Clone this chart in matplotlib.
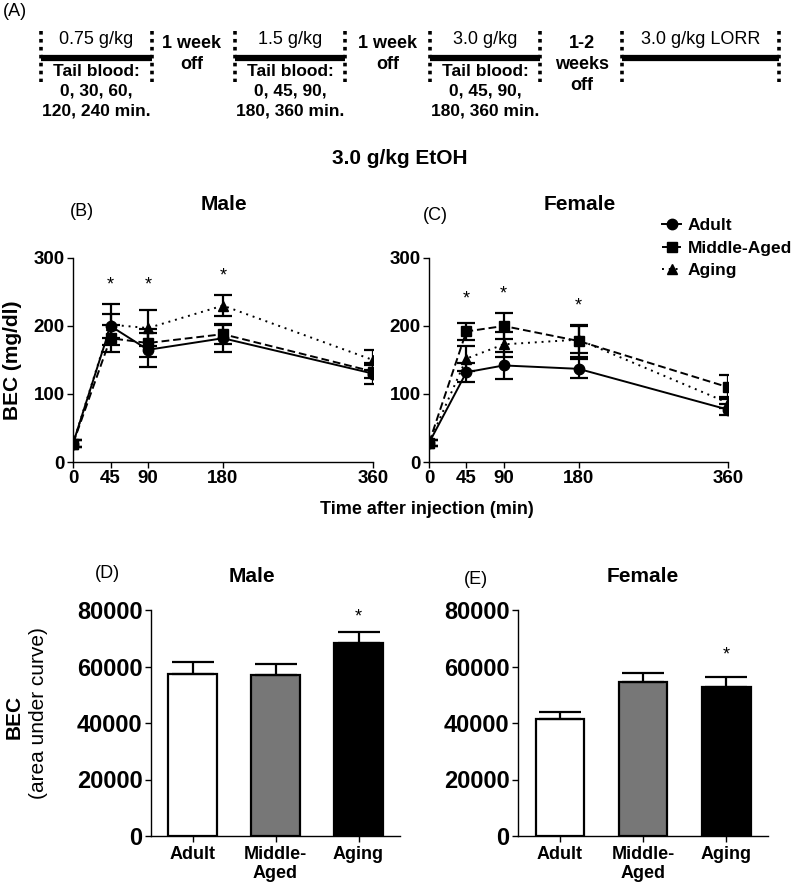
import matplotlib
matplotlib.use("Agg")
import matplotlib.pyplot as plt
from matplotlib.lines import Line2D
import numpy as np

plt.rcParams['font.family'] = ['Liberation Sans', 'DejaVu Sans']
plt.rcParams['axes.linewidth'] = 1.0

# ---- data ----
times = [0, 45, 90, 180, 360]
groups = ["Adult", "Middle-Aged", "Aging"]

male_adult = [27, 200, 165, 182, 130]
male_adult_err = [5, 18, 25, 20, 15]
male_middle = [27, 182, 175, 188, 133]
male_middle_err = [5, 20, 21, 15, 10]
male_aging = [27, 202, 197, 230, 150]
male_aging_err = [5, 30, 27, 16, 14]

female_adult = [28, 132, 142, 137, 77]
female_adult_err = [5, 14, 20, 14, 8]
female_middle = [28, 192, 200, 178, 110]
female_middle_err = [5, 13, 19, 24, 18]
female_aging = [28, 152, 173, 180, 87]
female_aging_err = [5, 18, 18, 20, 8]

male_star_t = [45, 90, 180]
male_star_y = [261, 261, 274]
female_star_t = [45, 90, 180]
female_star_y = [239, 247, 229]

bar_labels = ["Adult", "Middle-\nAged", "Aging"]
male_auc = [57500, 57000, 68300]
male_auc_err = [4000, 3800, 3800]
female_auc = [41400, 54600, 52700]
female_auc_err = [2600, 3100, 3600]
male_auc_star = 77500
female_auc_star = 64000

doses = ["0.75 g/kg", "1.5 g/kg", "3.0 g/kg", "3.0 g/kg LORR"]
blood_times = [["0, 30, 60,", "120, 240 min."],
               ["0, 45, 90,", "180, 360 min."],
               ["0, 45, 90,", "180, 360 min."],
               []]
gaps = [["1 week", "off"], ["1 week", "off"], ["1-2", "weeks", "off"]]

# ---- figure ----
W, H = 800, 892
fig = plt.figure(figsize=(W / 100, H / 100), dpi=100)


def px_axes(l, t, r, b):
    return fig.add_axes([l / W, 1 - b / H, (r - l) / W, (b - t) / H])


def ftext(x, y, s, **kw):
    fig.text(x / W, 1 - y / H, s, ha=kw.pop('ha', 'center'),
             va=kw.pop('va', 'center'), **kw)


# ---- panel A: timeline ----
axa = fig.add_axes([0, 1 - 125 / H, 1, 125 / H])
axa.set_xlim(0, W)
axa.set_ylim(125, 0)
axa.axis('off')
seg_x = [(41, 152), (235, 345), (430, 540), (622, 779)]
gap_x = [192, 388, 582]
for (x0, x1), dose, bt in zip(seg_x, doses, blood_times):
    axa.plot([x0, x1], [58, 58], color='black', lw=4.5, solid_capstyle='butt')
    for xx in (x0, x1):
        axa.plot([xx, xx], [31, 82], color='black', lw=2.6, linestyle=(0, (1, 1.2)))
    xc = (x0 + x1) / 2
    axa.text(xc, 39, dose, ha='center', va='center', fontsize=13)
    if bt:
        axa.text(xc, 71, "Tail blood:", ha='center', va='center', fontsize=12.5,
                 fontweight='bold')
        for k, line in enumerate(bt):
            axa.text(xc, 91 + 19.5 * k, line, ha='center', va='center', fontsize=12.5,
                     fontweight='bold')
for gx, words in zip(gap_x, gaps):
    for k, wd in enumerate(words):
        axa.text(gx, 43 + 21.5 * k, wd, ha='center', va='center', fontsize=13,
                 fontweight='bold')
axa.text(3, 12, "(A)", ha='left', va='center', fontsize=13)

ftext(400, 158, "3.0 g/kg EtOH", fontsize=15, fontweight='bold')

# ---- panels B, C: time courses ----
styles = [dict(marker='o', linestyle='-'),
          dict(marker='s', linestyle=(0, (4, 2))),
          dict(marker='^', linestyle=(0, (1, 2.5)))]


def line_panel(ax, series, errs, star_t, star_y):
    for (vals, err), st in zip(zip(series, errs), styles):
        ax.errorbar(times, vals, yerr=err, color='black', lw=1.4, markersize=7.5,
                    elinewidth=1.6, capsize=6.5, capthick=1.6, **st)
    for t, y in zip(star_t, star_y):
        ax.text(t, y, "*", ha='center', va='center', fontsize=13)
    ax.set_xlim(0, 360)
    ax.set_ylim(0, 300)
    ax.set_xticks(times)
    ax.set_yticks([0, 100, 200, 300])
    ax.spines['top'].set_visible(False)
    ax.spines['right'].set_visible(False)
    ax.tick_params(length=4, width=1, labelsize=13.5, pad=2)
    for lab in ax.get_xticklabels() + ax.get_yticklabels():
        lab.set_fontweight('bold')
    for sp in ax.spines.values():
        sp.set_clip_on(False)


axb = px_axes(73, 258, 373, 462)
line_panel(axb, [male_adult, male_middle, male_aging],
           [male_adult_err, male_middle_err, male_aging_err], male_star_t, male_star_y)
axb.set_ylabel("BEC (mg/dl)", fontsize=15, fontweight='bold', labelpad=8)

axc = px_axes(429, 258, 728, 462)
line_panel(axc, [female_adult, female_middle, female_aging],
           [female_adult_err, female_middle_err, female_aging_err], female_star_t, female_star_y)

ftext(82, 211, "(B)", fontsize=13)
ftext(224, 204, "Male", fontsize=15, fontweight='bold')
ftext(435, 215, "(C)", fontsize=13)
ftext(580, 204, "Female", fontsize=15, fontweight='bold')
ftext(427, 510, "Time after injection (min)", fontsize=13, fontweight='bold')

handles = [Line2D([0], [0], color='black', lw=1.4, markersize=7.5, **st) for st in styles]
fig.legend(handles, groups, loc='upper left', bbox_to_anchor=(662 / W, 1 - 218 / H),
           frameon=False, handlelength=1.1, handletextpad=0.4,
           labelspacing=0.42, borderaxespad=0, borderpad=0,
           prop=dict(size=12.5, weight='bold'))

# ---- panels D, E: AUC bars ----
bar_colors = ['white', '#777777', 'black']


def bar_panel(ax, vals, errs, star_y):
    x = np.arange(1, len(vals) + 1)
    ax.bar(x, vals, width=0.58, color=bar_colors, edgecolor='black', linewidth=1.6,
           yerr=[np.zeros(len(errs)), errs],
           error_kw=dict(ecolor='black', elinewidth=1.6, capsize=15, capthick=1.6))
    ax.text(3, star_y, "*", ha='center', va='center', fontsize=13)
    ax.set_xlim(0.5, 3.5)
    ax.set_ylim(0, 80000)
    ax.set_yticks([0, 20000, 40000, 60000, 80000])
    ax.set_xticks(x)
    ax.set_xticklabels(bar_labels, fontsize=13, fontweight='bold')
    ax.spines['top'].set_visible(False)
    ax.spines['right'].set_visible(False)
    ax.tick_params(length=4, width=1, pad=3)
    ax.tick_params(axis='y', labelsize=17, pad=2)
    for lab in ax.get_yticklabels():
        lab.set_fontweight('bold')


axd = px_axes(151, 610, 400, 836)
bar_panel(axd, male_auc, male_auc_err, male_auc_star)
axe = px_axes(518, 610, 768, 836)
bar_panel(axe, female_auc, female_auc_err, female_auc_star)

ftext(107, 573, "(D)", fontsize=13)
ftext(252, 577, "Male", fontsize=15, fontweight='bold')
ftext(476, 579, "(E)", fontsize=13)
ftext(643, 577, "Female", fontsize=15, fontweight='bold')
ftext(14, 717, "BEC", fontsize=15, fontweight='bold', rotation=90)
ftext(39, 713, "(area under curve)", fontsize=15, rotation=90)

fig.savefig("out.png", dpi=100)
